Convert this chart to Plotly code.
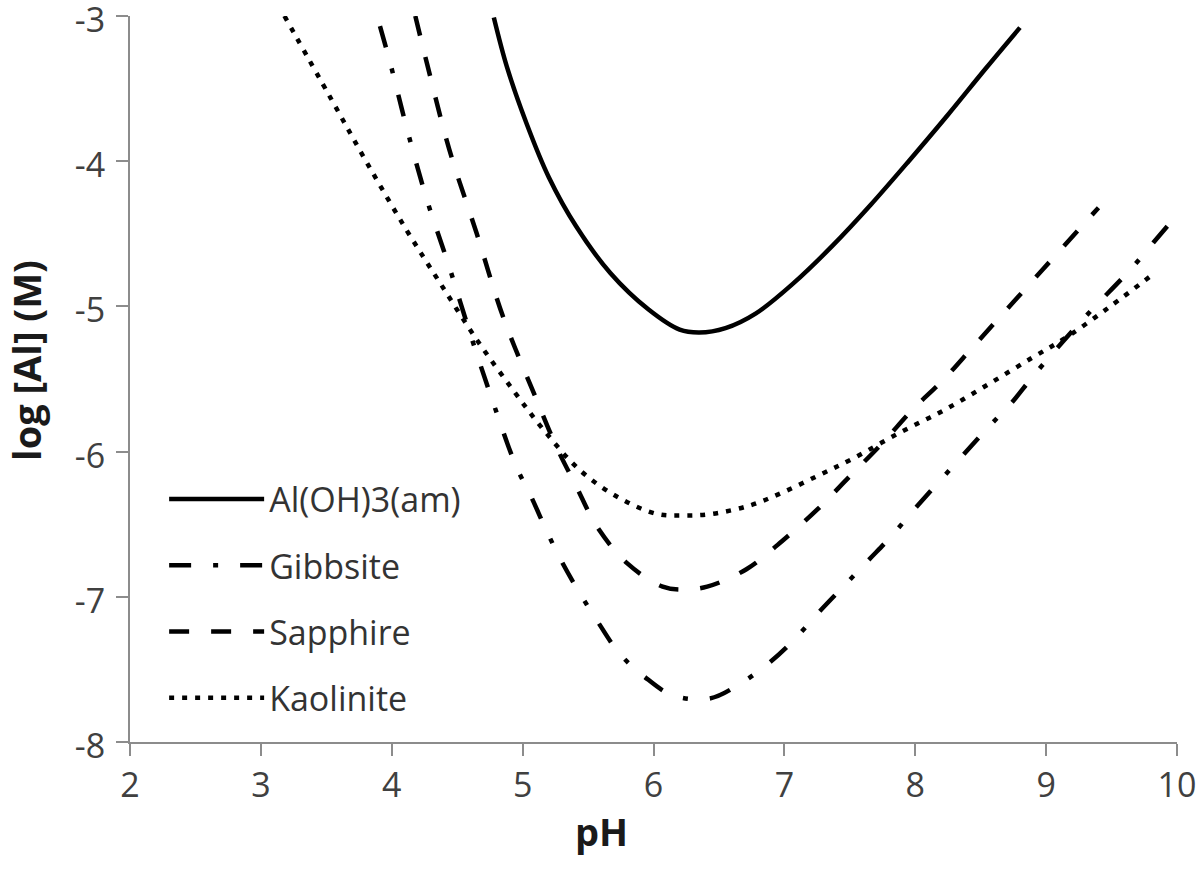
import plotly.graph_objects as go

# ---- data ----
names = ["Al(OH)3(am)", "Gibbsite", "Sapphire", "Kaolinite"]

ph_am = [4.78, 4.88, 5.03, 5.20, 5.41, 5.67, 5.96, 6.20, 6.35, 6.55, 6.78, 7.07,
         7.37, 7.66, 7.95, 8.25, 8.54, 8.80]
log_am = [-3.01, -3.35, -3.74, -4.11, -4.45, -4.77, -5.02, -5.16, -5.18, -5.15, -5.05, -4.84,
          -4.58, -4.30, -4.00, -3.68, -3.36, -3.08]

ph_gib = [3.91, 3.99, 4.12, 4.27, 4.44, 4.60, 4.77, 4.95, 5.07, 5.18, 5.30, 5.44, 5.58,
          5.74, 5.93, 6.15, 6.43, 6.66, 6.89, 7.07, 7.27, 7.45, 7.64, 7.81, 8.01, 8.37,
          8.55, 8.74, 8.91, 9.28, 9.64, 9.82, 10.0]
log_gib = [-3.07, -3.33, -3.79, -4.27, -4.73, -5.19, -5.65, -6.10, -6.32, -6.54, -6.76, -6.98, -7.18,
           -7.39, -7.55, -7.68, -7.70, -7.60, -7.45, -7.30, -7.10, -6.93, -6.75, -6.59, -6.38, -6.02,
           -5.84, -5.66, -5.47, -5.09, -4.75, -4.56, -4.37]

ph_sap = [4.18, 4.27, 4.44, 4.65, 4.85, 5.11, 5.26, 5.41, 5.57, 5.80, 6.07, 6.23, 6.41,
          6.71, 6.99, 7.25, 7.50, 7.75, 7.98, 8.21, 8.44, 8.67, 8.90, 9.13, 9.40]
log_sap = [-3.00, -3.33, -3.92, -4.50, -5.07, -5.65, -5.97, -6.24, -6.52, -6.77, -6.93, -6.95, -6.93,
           -6.81, -6.61, -6.40, -6.17, -5.94, -5.71, -5.51, -5.28, -5.05, -4.82, -4.59, -4.32]

ph_kao = [3.18, 3.53, 3.81, 4.11, 4.37, 4.65, 4.93, 5.16, 5.44, 5.74, 6.03, 6.23, 6.44,
          6.74, 6.99, 7.27, 7.52, 7.88, 8.23, 8.57, 8.90, 9.16, 9.49, 9.80]
log_kao = [-3.00, -3.56, -4.01, -4.47, -4.84, -5.23, -5.58, -5.85, -6.13, -6.32, -6.43, -6.44, -6.43,
           -6.37, -6.28, -6.16, -6.05, -5.87, -5.71, -5.53, -5.35, -5.21, -5.00, -4.79]

x_ticks = [2, 3, 4, 5, 6, 7, 8, 9, 10]
y_ticks = [-3, -4, -5, -6, -7, -8]

x_title = "pH"
y_title = "log [Al] (M)"

series = [
    (names[0], ph_am, log_am, "solid"),
    (names[1], ph_gib, log_gib, "22px,22px,5px,22px"),
    (names[2], ph_sap, log_sap, "20px,22px"),
    (names[3], ph_kao, log_kao, "5px,8px"),
]

FONT = "Open Sans"

fig = go.Figure()
for i, (nm, xs, ys, dash) in enumerate(series):
    fig.add_trace(go.Scatter(
        x=xs, y=ys, mode="lines", name=nm, legendgroup=f"g{i}",
        line=dict(color="black", width=4.5, dash=dash, shape="spline", smoothing=1.0),
    ))

axis_common = dict(
    showline=True, linecolor="#8c8c8c", linewidth=2,
    ticks="outside", ticklen=12, tickwidth=2, tickcolor="#8c8c8c",
    showgrid=False, zeroline=False,
    tickfont=dict(family=FONT, size=34, color="#404040"),
    ticklabeloverflow="allow",
    mirror=False,
)

fig.update_xaxes(
    range=[2, 10], tickmode="array", tickvals=x_ticks,
    ticktext=[str(v) for v in x_ticks],
    **axis_common,
)
fig.update_yaxes(
    range=[-8, -3], tickmode="array", tickvals=y_ticks,
    ticktext=[str(v) for v in y_ticks],
    ticklabelstandoff=4, ticklabelshift=4,
    **axis_common,
)

title_font = dict(family=FONT, size=38, color="#1a1a1a", weight="bold")
fig.add_annotation(text=x_title, xref="paper", yref="paper", x=0.4508, y=-0.1226,
                   xanchor="center", yanchor="middle", showarrow=False, font=title_font)
fig.add_annotation(text=y_title, xref="paper", yref="paper", x=-0.0995, y=0.526,
                   xanchor="center", yanchor="middle", showarrow=False, textangle=-90,
                   font=title_font)

fig.update_layout(
    width=1200, height=881,
    paper_bgcolor="white", plot_bgcolor="white",
    margin=dict(l=130, r=23, t=16, b=139, autoexpand=False),
    font=dict(family=FONT, color="#404040"),
    legend=dict(
        x=0.0326, y=0.374, xanchor="left", yanchor="top",
        bgcolor="rgba(0,0,0,0)", borderwidth=0,
        font=dict(family=FONT, size=34, color="#333333"),
        itemwidth=95, tracegroupgap=19,
    ),
    showlegend=True,
)

# remove the browser's default 8px page margin so the 1200x881 figure fills the window exactly
fig.write_html("out.html", config={"displayModeBar": False},
               post_script="document.body.style.margin='0px';")
